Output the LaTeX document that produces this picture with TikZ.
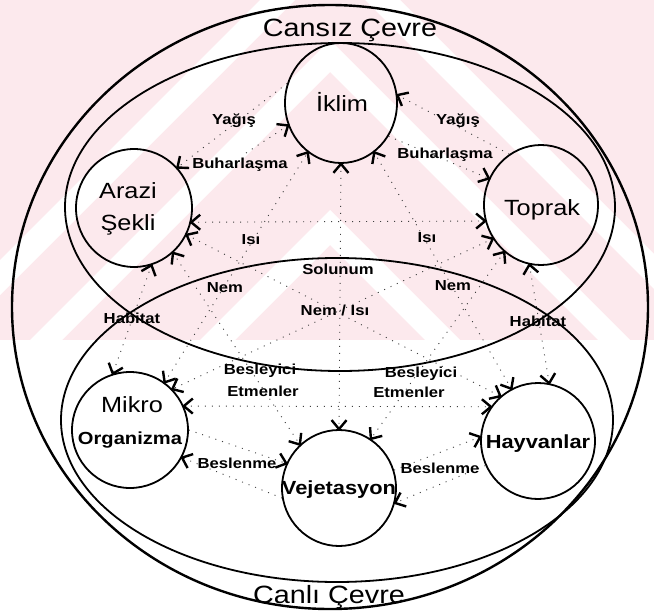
\documentclass[tikz,border=0pt]{standalone}
\usepackage{fontspec}
\setmainfont{Liberation Sans}[FakeStretch=1.15]
\usetikzlibrary{shapes.geometric,decorations.markings}
\definecolor{pinkbg}{RGB}{252,233,237}
\tikzset{
  barbstroke/.style={solid, draw=black, line width=2.4pt, line join=miter, line cap=butt},
  tipend/.style={postaction={decorate, decoration={markings,
     mark=at position 1 with {\draw[barbstroke] (-9pt,7.5pt) -- (0pt,0pt) -- (-9pt,-7.5pt);}}}},
  tipstart/.style={postaction={decorate, decoration={markings,
     mark=at position 0 with {\draw[barbstroke] (9pt,7.5pt) -- (0pt,0pt) -- (9pt,-7.5pt);}}}}
}
\begin{document}
\begin{tikzpicture}[x=1pt,y=-1pt,
  circ/.style={draw, ellipse, line width=1.8pt, inner sep=0pt},
  dl/.style={line width=0.9pt, dash pattern=on 1pt off 6pt, black!75},
  one/.style={dl, tipend},
  two/.style={dl, tipend, tipstart},
  region/.style={line width=1.8pt},
  title/.style={font=\fontsize{25}{30}\selectfont, inner sep=0pt},
  big/.style={font=\fontsize{22}{26}\selectfont, inner sep=0pt},
  mid/.style={font=\fontsize{19}{22}\selectfont\bfseries, inner sep=0pt},
  org/.style={font=\fontsize{17.5}{20}\selectfont\bfseries, inner sep=0pt},
  sm/.style={font=\fontsize{14.5}{17}\selectfont\bfseries, inner sep=0pt}]
\useasboundingbox (0,0) rectangle (654,613);
\fill[white] (0,0) rectangle (654,613);
% watermark tint
\begin{scope}
\clip (0,0) rectangle (654,340);
\fill[pinkbg] (0,0) rectangle (654,340);
\foreach \a/\b in {-70/-35, 40/72, 210/245} {
  \fill[white] (330-700,\a+700) -- (330,\a) -- (330+700,\a+700) -- (330+700,\b+700) -- (330,\b) -- (330-700,\b+700) -- cycle;
}
\end{scope}
% regions
\draw[line width=2.4pt] (330,307) ellipse [x radius=318pt, y radius=302pt];
\draw[region] (340,207) ellipse [x radius=275pt, y radius=164pt];
\draw[region] (337,420) ellipse [x radius=276pt, y radius=162pt];
\node[title, anchor=base] (cansiz) at (350,36) {Cansız Çevre};
\node[title, anchor=base] (canli) at (329,603) {Canlı Çevre};
% circles
\node[circ, minimum width=112pt, minimum height=120pt] (ik) at (341,103) {};
\node[circ, minimum width=116pt, minimum height=118pt] (az) at (134,208) {};
\node[circ, minimum width=114pt, minimum height=120pt] (tp) at (541,205) {};
\node[circ, minimum width=116pt, minimum height=116pt] (mi) at (130,430) {};
\node[circ, minimum width=114pt, minimum height=116pt] (ve) at (339,488) {};
\node[circ, minimum width=114pt, minimum height=116pt] (ha) at (538,441) {};
% circle texts
\node[big] (tik) at (342,102) {İklim};
\node[big] (taz1) at (128,191) {Arazi};
\node[big] (taz2) at (128,225) {Şekli};
\node[big] (ttp) at (542,210) {Toprak};
\node[big] (tmi) at (132,405) {Mikro};
\node[org] (tmi2) at (130,440) {Organizma};
\node[mid] (tve) at (339,490) {Vejetasyon};
\node[mid] (tha) at (538,444) {Hayvanlar};
% connectors
\coordinate (bL) at (246,153);
\draw[one] (ik.160) -- (az.43);
\draw[one] (bL) -- (ik.203);
\draw[one] (tp.122) -- (ik.8);
\draw[one] (ik.325) -- (tp.153);
\draw[two] (az.346) -- (tp.196);
\draw[two] (ik.270) -- (ve.90);
\draw[two] (mi.54) -- (ik.236);
\draw[two] (ha.117) -- (ik.304);
\draw[two] (az.333) -- (ha.130);
\draw[two] (tp.215) -- (mi.44);
\draw[two] (az.311) -- (ve.132);
\draw[two] (tp.232) -- (ve.57);
\draw[two] (az.287) -- (mi.107);
\draw[two] (tp.259) -- (ha.79);
\draw[two] (mi.24) -- (ha.144);
\draw[one] (mi.0) -- (ve.155);
\draw[one] (ve.190) -- (mi.332);
\draw[one] (ve.18) -- (ha.176);
\draw[one] (ha.205) -- (ve.345);
% labels
\node[sm] (l1) at (234,121) {Yağış};
\node[sm] (l2) at (458,121) {Yağış};
\node[sm] (l3) at (240,165) {Buharlaşma};
\node[sm] (l4) at (445,155) {Buharlaşma};
\node[sm] (l5) at (251,240) {Isı};
\node[sm] (l6) at (427,238) {Isı};
\node[sm] (l7) at (338,269) {Solunum};
\node[sm] (l8) at (225,288) {Nem};
\node[sm] (l9) at (453,286) {Nem};
\node[sm] (l10) at (335,310) {Nem / Isı};
\node[sm] (l11) at (132,318) {Habitat};
\node[sm] (l12) at (538,321) {Habitat};
\node[sm] (l13) at (260,371) {Besleyici};
\node[sm] (l14) at (263,391) {Etmenler};
\node[sm] (l15) at (421,374) {Besleyici};
\node[sm] (l16) at (409,392) {Etmenler};
\node[sm] (l17) at (237,463) {Beslenme};
\node[sm] (l18) at (440,468) {Beslenme};
\end{tikzpicture}
\end{document}
